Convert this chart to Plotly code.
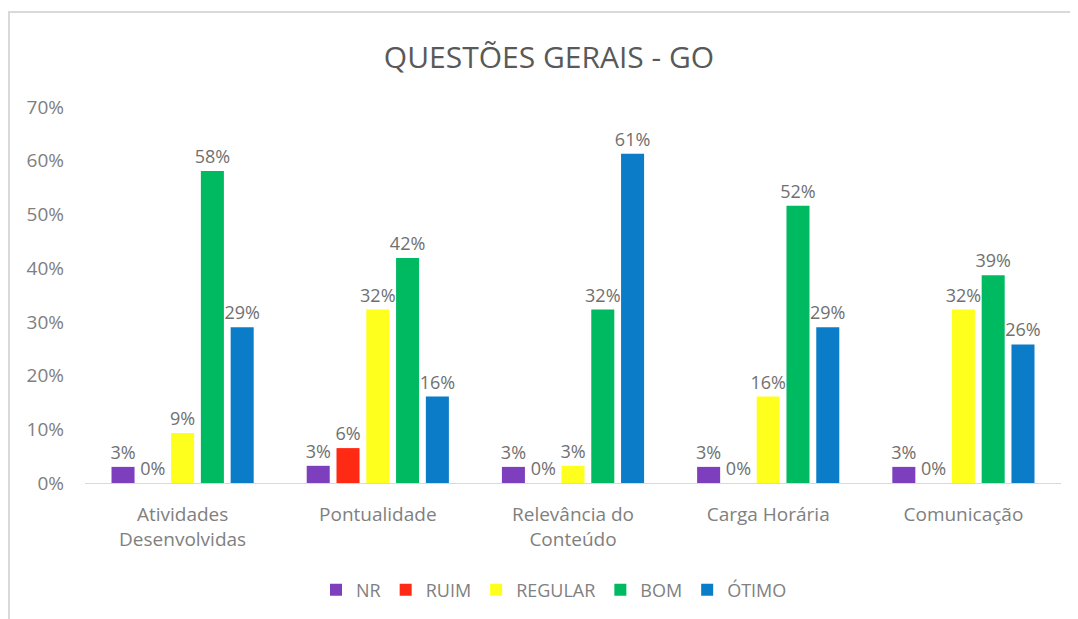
import plotly.graph_objects as go

categories = ["Atividades<br>Desenvolvidas", "Pontualidade", "Relevância do<br>Conteúdo", "Carga Horária", "Comunicação"]
series_names = ["NR", "RUIM", "REGULAR", "BOM", "ÓTIMO"]
nr = [0.03, 0.032, 0.03, 0.03, 0.03]
ruim = [0.0, 0.065, 0.0, 0.0, 0.0]
regular = [0.093, 0.323, 0.032, 0.161, 0.323]
bom = [0.581, 0.419, 0.323, 0.516, 0.387]
otimo = [0.290, 0.161, 0.613, 0.290, 0.258]
colors = ["#7E3FBE", "#FF2A14", "#FFFF1E", "#00BA62", "#0A7CC8"]
y_ticks = [0, 0.1, 0.2, 0.3, 0.4, 0.5, 0.6, 0.7]

font_family = "Open Sans, Noto Sans, sans-serif"
gray = "#808080"

fig = go.Figure()
for name, vals, col in zip(series_names, [nr, ruim, regular, bom, otimo], colors):
    fig.add_trace(go.Bar(
        name=name, x=categories, y=vals, marker_color=col,
        marker_line_width=0,
        text=[f"{round(v*100):.0f}%" for v in vals],
        textposition="outside", cliponaxis=False, constraintext="none",
        textfont=dict(size=18, color="#707070", family=font_family),
    ))

# page has an 8px body margin, so figure coordinates are page coordinates minus 8
W, H = 1070, 611
plot_left, plot_right, plot_top, plot_bottom = 77, 1053, 99, 475

fig.update_layout(
    width=W, height=H,
    barmode="group", bargap=0.237, bargroupgap=0.227,
    paper_bgcolor="white", plot_bgcolor="white",
    margin=dict(l=plot_left, r=W - plot_right, t=plot_top, b=H - plot_bottom, pad=0, autoexpand=False),
    title=dict(text="QUESTÕES GERAIS - GO", x=541 / W, xanchor="center", y=1 - 49 / H, yanchor="middle",
               font=dict(size=30, color="#595959", family=font_family)),
    font=dict(family=font_family, color=gray),
    legend=dict(orientation="h", x=(546 - plot_left) / (plot_right - plot_left), xanchor="center",
                y=(plot_bottom - 582) / (plot_bottom - plot_top), yanchor="middle",
                font=dict(size=18, color=gray), itemwidth=30, traceorder="normal"),
    xaxis=dict(showline=True, linecolor="#D9D9D9", linewidth=1, ticks="",
               tickfont=dict(size=19, color=gray), showgrid=False, automargin=False,
               ticklabelstandoff=14),
    yaxis=dict(range=[0, 0.7], tickvals=y_ticks, tickformat=".0%", showgrid=False,
               zeroline=False, showline=False, ticks="", ticklabelstandoff=20, automargin=False,
               tickfont=dict(size=19, color=gray)),
    shapes=[dict(type="rect", xref="paper", yref="paper",
                 x0=(1 - plot_left) / (plot_right - plot_left),
                 x1=(1075 - plot_left) / (plot_right - plot_left),
                 y0=(plot_bottom - 612) / (plot_bottom - plot_top),
                 y1=(plot_bottom - 4) / (plot_bottom - plot_top),
                 line=dict(color="#D9D9D9", width=2), layer="below")],
)

fig.write_html("out.html")
